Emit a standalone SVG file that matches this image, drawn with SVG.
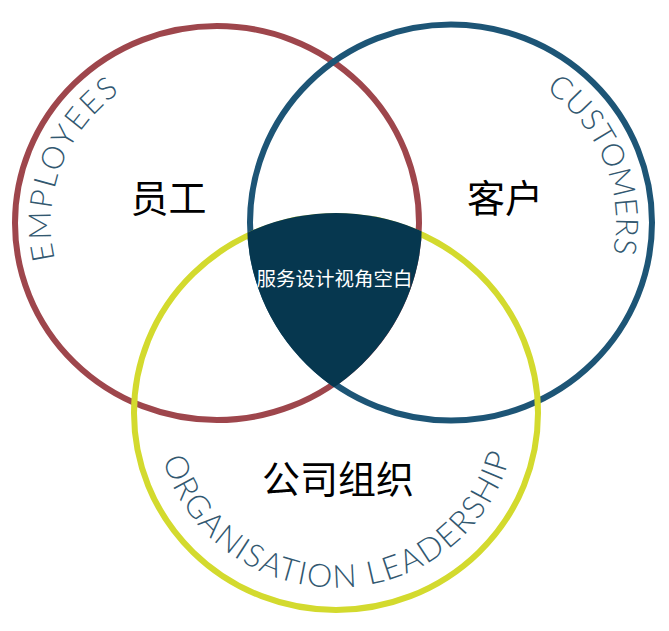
<svg xmlns="http://www.w3.org/2000/svg" width="669" height="631" viewBox="0 0 669 631">
<style>
.ring{fill:none;stroke-width:6}
.arc{font-family:Lato,"Open Sans","Liberation Sans",sans-serif;font-weight:300;fill:#325870}
.cn{font-family:"Noto Sans CJK SC","Noto Sans",sans-serif;fill:#000;text-anchor:middle}
</style>
<defs>
<clipPath id="cRed"><ellipse cx="217" cy="223" rx="205" ry="200"/></clipPath>
<clipPath id="cBlue"><ellipse cx="451" cy="222.5" rx="204" ry="201"/></clipPath>
<path id="pEmp" d="M 55.1 259.3 A 166 161 0 0 1 119.4 92.7"/>
<path id="pCus" d="M 545.6 89.8 A 165 162 0 0 1 613.0 253.4"/>
<path id="pOrg" d="M 162.9 459.3 A 179.5 174.5 0 0 0 510.0 455.8"/>
</defs>
<rect width="669" height="631" fill="#fff"/>
<g id="employees">
<ellipse class="ring" cx="217" cy="223" rx="202" ry="197" stroke="#9e464c"/>
</g>
<g id="customers">
<ellipse class="ring" cx="451" cy="222.5" rx="201" ry="198" stroke="#1d5576"/>
</g>
<g id="organisation">
<ellipse class="ring" cx="336" cy="413" rx="202" ry="197" stroke="#d3da2e"/>
</g>
<g id="center">
<g clip-path="url(#cRed)"><g clip-path="url(#cBlue)">
<ellipse cx="336" cy="413" rx="205" ry="200" fill="#06374f"/>
</g></g>
<text x="334.5" y="286" font-family="'Noto Sans CJK SC',sans-serif" font-size="19.5" fill="#fff" text-anchor="middle">服务设计视角空白</text>
</g>
<g id="labels">
<text class="arc" font-size="31"><textPath href="#pEmp" textLength="190" lengthAdjust="spacing">EMPLOYEES</textPath></text>
<text class="arc" font-size="31"><textPath href="#pCus" textLength="187" lengthAdjust="spacing">CUSTOMERS</textPath></text>
<text class="arc" font-size="32"><textPath href="#pOrg" textLength="466" lengthAdjust="spacing">ORGANISATION LEADERSHIP</textPath></text>
<text class="cn" x="168.5" y="212" font-size="38">员工</text>
<text class="cn" x="505" y="212" font-size="38">客户</text>
<text class="cn" x="338" y="493" font-size="38">公司组织</text>
</g>
</svg>
